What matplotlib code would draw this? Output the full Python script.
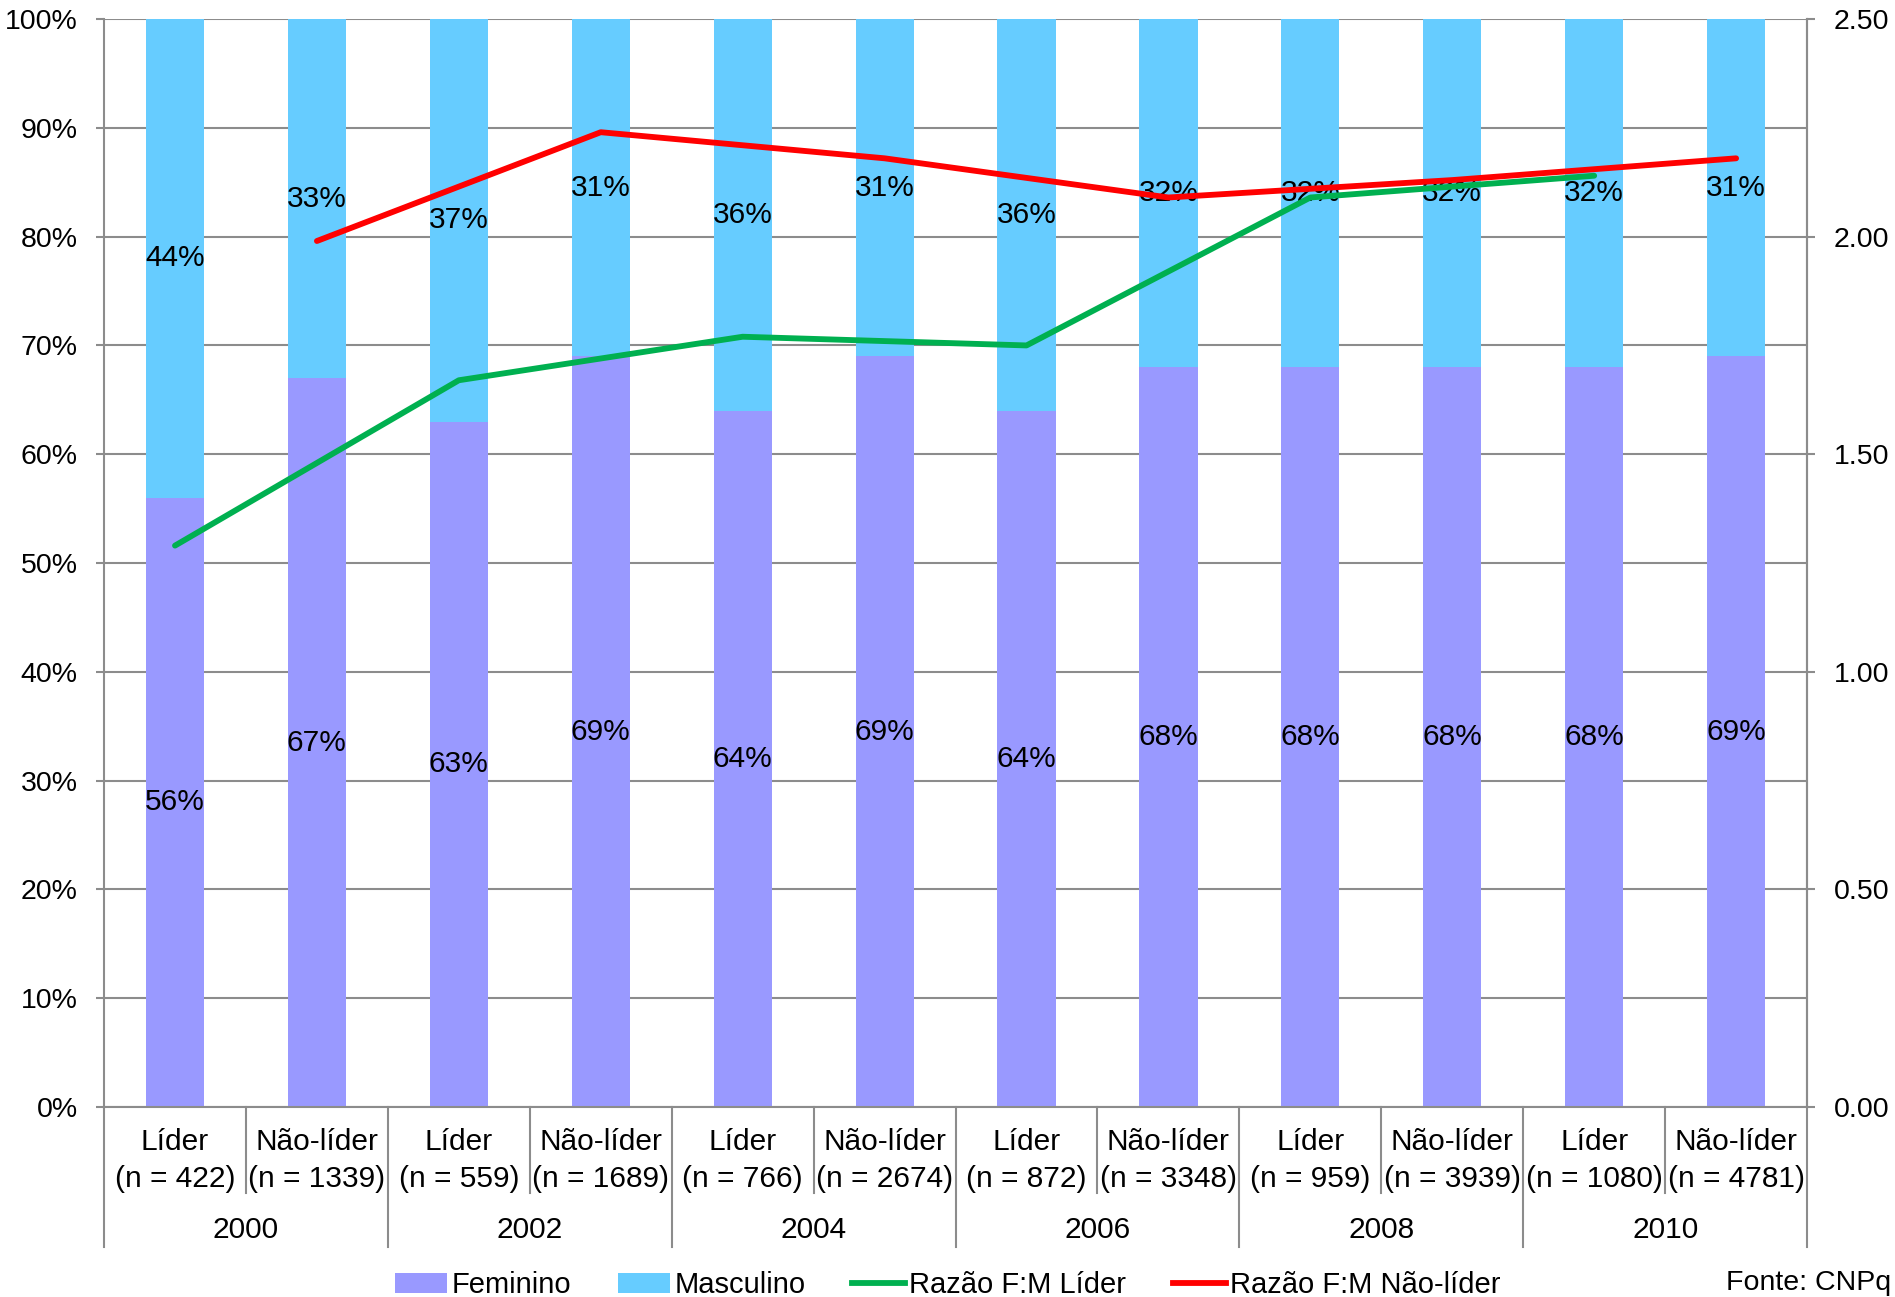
import matplotlib
matplotlib.use("Agg")
import matplotlib.pyplot as plt
from matplotlib.patches import Patch
from matplotlib.lines import Line2D
import matplotlib.transforms as mtransforms

plt.rcParams['font.family'] = ['Liberation Sans', 'DejaVu Sans']

# Data
years = ['2000', '2002', '2004', '2006', '2008', '2010']
groups = ['Líder', 'Não-líder'] * 6
n_labels = ['(n = 422)', '(n = 1339)', '(n = 559)', '(n = 1689)',
            '(n = 766)', '(n = 2674)', '(n = 872)', '(n = 3348)',
            '(n = 959)', '(n = 3939)', '(n = 1080)', '(n = 4781)']
feminino = [56, 67, 63, 69, 64, 69, 64, 68, 68, 68, 68, 69]
masculino = [44, 33, 37, 31, 36, 31, 36, 32, 32, 32, 32, 31]
razao_lider = [1.29, 1.67, 1.77, 1.75, 2.09, 2.14]
razao_nao_lider = [1.99, 2.24, 2.18, 2.09, 2.13, 2.18]

C_FEM = '#9999FF'
C_MASC = '#66CCFF'
C_GREEN = '#00B050'
C_RED = '#FF0000'
C_GRID = '#8C8C8C'
FS_TICK = 20.5
FS = 21.5
LW = 4.2

fig = plt.figure(figsize=(18.95, 12.97), dpi=100)
ax = fig.add_axes([0.0549, 0.1465, 0.8987, 0.8388])

x = list(range(len(feminino)))
w = 0.41
ax.bar(x, feminino, width=w, color=C_FEM, zorder=2)
ax.bar(x, masculino, width=w, bottom=feminino, color=C_MASC, zorder=2)

for xi, f, m in zip(x, feminino, masculino):
    ax.text(xi, f / 2, f'{f}%', ha='center', va='center', fontsize=FS, zorder=3)
    ax.text(xi, f + m / 2, f'{m}%', ha='center', va='center', fontsize=FS, zorder=3)

ax.set_xlim(-0.5, 11.5)
ax.set_ylim(0, 100)
ax.set_yticks(range(0, 101, 10))
ax.set_yticklabels([f'{v}%' for v in range(0, 101, 10)], fontsize=FS_TICK)
ax.yaxis.grid(True, color=C_GRID, linewidth=1.5, zorder=0)
ax.set_axisbelow(True)
ax.set_xticks([])
ax.tick_params(axis='y', length=6, width=1.5, color=C_GRID, pad=13)
ax.spines['top'].set_visible(False)
for s in ['left', 'right', 'bottom']:
    ax.spines[s].set_color(C_GRID)
    ax.spines[s].set_linewidth(1.5)

# Secondary axis for F:M ratios
ax2 = ax.twinx()
ax2.set_ylim(0, 2.5)
ticks2 = [0, 0.5, 1.0, 1.5, 2.0, 2.5]
ax2.set_yticks(ticks2)
ax2.set_yticklabels([f'{t:.2f}' for t in ticks2], fontsize=FS_TICK)
ax2.tick_params(axis='y', length=6, width=1.5, color=C_GRID, pad=13)
for s in ['top', 'left', 'bottom']:
    ax2.spines[s].set_visible(False)
ax2.spines['right'].set_color(C_GRID)
ax2.spines['right'].set_linewidth(1.5)

ax2.plot(x[0::2], razao_lider, color=C_GREEN, linewidth=LW, solid_capstyle='round')
ax2.plot(x[1::2], razao_nao_lider, color=C_RED, linewidth=LW, solid_capstyle='round')

# Hierarchical category axis
trans = mtransforms.blended_transform_factory(ax.transData, ax.transAxes)
for xi, g, n in zip(x, groups, n_labels):
    ax.text(xi, -0.0325, g, transform=trans, ha='center', va='center', fontsize=FS)
    ax.text(xi, -0.0665, n, transform=trans, ha='center', va='center', fontsize=FS)
for k, yr in enumerate(years):
    ax.text(2 * k + 0.5, -0.113, yr, transform=trans, ha='center', va='center', fontsize=FS)
for b in range(13):
    xb = b - 0.5
    y_end = -0.1287 if b % 2 == 0 else -0.079
    ax.plot([xb, xb], [0, y_end], transform=trans, color=C_GRID, linewidth=1.5,
            clip_on=False)

handles = [Patch(facecolor=C_FEM, edgecolor='none'),
           Patch(facecolor=C_MASC, edgecolor='none'),
           Line2D([0], [0], color=C_GREEN, linewidth=LW),
           Line2D([0], [0], color=C_RED, linewidth=LW)]
labels = ['Feminino', 'Masculino', 'Razão F:M Líder', 'Razão F:M Não-líder']
fig.legend(handles, labels, loc='center', bbox_to_anchor=(0.5, 0.009), ncol=4,
           frameon=False, fontsize=21, handlelength=1.8, handletextpad=0.15,
           columnspacing=1.6, borderpad=0, borderaxespad=0)

fig.text(0.998, 0.011, 'Fonte: CNPq', ha='right', va='center', fontsize=FS_TICK)

fig.savefig('out.png', dpi=100)
